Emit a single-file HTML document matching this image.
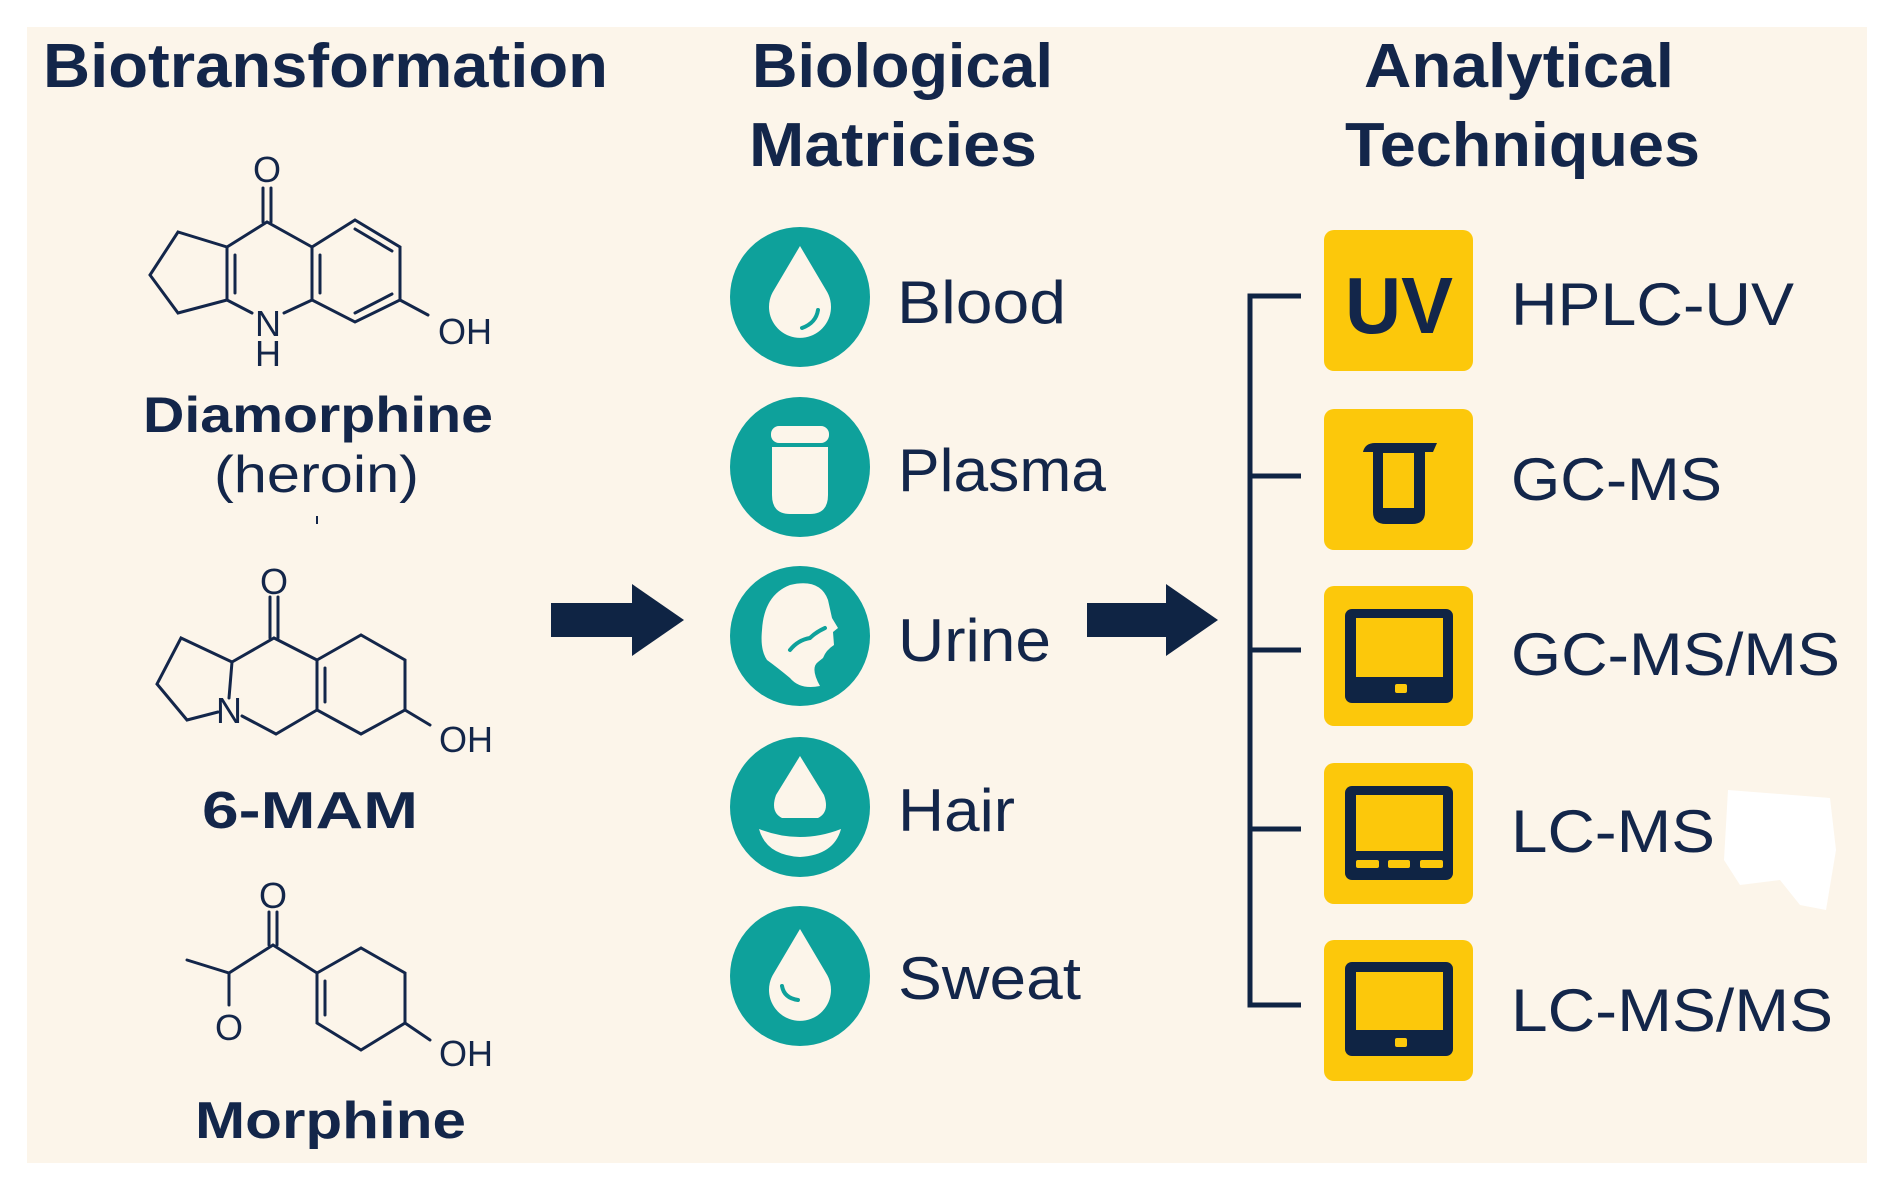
<!DOCTYPE html>
<html><head><meta charset="utf-8"><style>
html,body{margin:0;padding:0;background:#fff;}
svg{display:block}
text{font-family:"Liberation Sans",sans-serif;fill:#13264a}
</style></head><body>
<svg width="1888" height="1196" viewBox="0 0 1888 1196" xmlns="http://www.w3.org/2000/svg">
<rect x="0" y="0" width="1888" height="1196" fill="#ffffff"/>
<rect x="27" y="27" width="1840" height="1136" fill="#fcf5ea"/>

<g font-weight="bold" font-size="62">
<text x="43" y="87" textLength="565" lengthAdjust="spacingAndGlyphs">Biotransformation</text>
<text x="752" y="87" textLength="301" lengthAdjust="spacingAndGlyphs">Biological</text>
<text x="749" y="166" textLength="288" lengthAdjust="spacingAndGlyphs">Matricies</text>
<text x="1364" y="87" textLength="310" lengthAdjust="spacingAndGlyphs">Analytical</text>
<text x="1345" y="166" textLength="355" lengthAdjust="spacingAndGlyphs">Techniques</text>
</g>

<g stroke="#13264a" stroke-width="3" fill="none" stroke-linecap="round">
<line x1="263" y1="188" x2="263" y2="222"/><line x1="271" y1="188" x2="271" y2="222"/>
<polyline points="227,247 267,222 312,247"/>
<polyline points="227,247 178,232 150,275 178,313 227,300"/>
<line x1="227" y1="247" x2="227" y2="300"/><line x1="235" y1="255" x2="235" y2="293"/>
<line x1="227" y1="300" x2="252" y2="313"/><line x1="284" y1="313" x2="312" y2="300"/>
<polyline points="312,247 355,220 400,247 400,300 355,322 312,300 312,247"/>
<line x1="320" y1="255" x2="320" y2="293"/>
<line x1="355" y1="229" x2="392" y2="251"/>
<line x1="355" y1="313" x2="392" y2="294"/>
<line x1="400" y1="300" x2="428" y2="315"/>
<line x1="270" y1="597" x2="270" y2="638"/><line x1="278" y1="597" x2="278" y2="638"/>
<polyline points="232,662 274,638 317,660"/>
<polyline points="232,662 181,638 157,684 187,720 218,712"/>
<line x1="232" y1="662" x2="229" y2="698"/>
<polyline points="242,716 276,734 317,710"/>
<polyline points="317,660 361,635 405,660 405,710 361,734 317,710 317,660"/>
<line x1="325" y1="668" x2="325" y2="702"/>
<line x1="405" y1="710" x2="430" y2="725"/>
<line x1="269" y1="912" x2="269" y2="945"/><line x1="277" y1="912" x2="277" y2="945"/>
<polyline points="187,960 229,973 273,945 317,973"/>
<line x1="229" y1="973" x2="229" y2="1005"/>
<polyline points="317,973 361,948 405,973 405,1023 361,1050 317,1023 317,973"/>
<line x1="325" y1="981" x2="325" y2="1015"/>
<line x1="405" y1="1023" x2="430" y2="1040"/>
</g>
<g font-size="36">
<text x="267" y="182" text-anchor="middle">O</text>
<text x="268" y="336" text-anchor="middle">N</text>
<text x="268" y="366" text-anchor="middle">H</text>
<text x="465" y="344" text-anchor="middle">OH</text>
<text x="274" y="594" text-anchor="middle">O</text>
<text x="229" y="723" text-anchor="middle">N</text>
<text x="466" y="752" text-anchor="middle">OH</text>
<text x="273" y="908" text-anchor="middle">O</text>
<text x="229" y="1040" text-anchor="middle">O</text>
<text x="466" y="1066" text-anchor="middle">OH</text>
</g>
<text x="143" y="432" font-size="50" font-weight="bold" textLength="350" lengthAdjust="spacingAndGlyphs">Diamorphine</text>
<text x="214" y="492" font-size="52" textLength="205" lengthAdjust="spacingAndGlyphs">(heroin)</text>
<line x1="317" y1="516" x2="317" y2="524" stroke="#13264a" stroke-width="2"/>
<text x="202" y="828" font-size="52" font-weight="bold" textLength="216" lengthAdjust="spacingAndGlyphs">6-MAM</text>
<text x="195" y="1138" font-size="52" font-weight="bold" textLength="271" lengthAdjust="spacingAndGlyphs">Morphine</text>

<g fill="#0f2444">
<rect x="551" y="603" width="84" height="34"/><polygon points="632,584 684,620 632,656"/>
<rect x="1087" y="603" width="82" height="34"/><polygon points="1166,584 1218,620 1166,656"/>
</g>

<g fill="#0ea19b">
<circle cx="800" cy="297" r="70"/><circle cx="800" cy="467" r="70"/><circle cx="800" cy="636" r="70"/><circle cx="800" cy="807" r="70"/><circle cx="800" cy="976" r="70"/>
</g>
<g fill="#fcf5ea">
<path d="M800 246 L774 290 A31 31 0 1 0 826 290 Z"/>
<rect x="771" y="426" width="58" height="17" rx="8"/>
<path d="M772 447 H828 V495 Q828 514 810 514 H790 Q772 514 772 495 Z"/>
<path d="M790 585 Q820 578 828 600 L832 618 L838 628 L833 632 L834 645 Q826 650 823 658 L818 662 Q810 668 820 686 Q800 690 790 678 Q778 668 767 660 Q760 650 762 630 Q764 595 790 585 Z"/>
<path d="M800 756 L776 795 Q770 812 782 818 H818 Q830 812 824 795 Z"/>
<path d="M759 829 Q800 845 841 829 Q834 855 800 857 Q766 855 759 829 Z"/>
<path d="M800 929 L774 973 A31 31 0 1 0 826 973 Z"/>
</g>
<g stroke="#0ea19b" stroke-width="4" fill="none" stroke-linecap="round">
<path d="M818 310 Q816 323 802 328"/>
<path d="M782 986 Q784 998 798 1000"/>
<path d="M790 650 Q798 640 810 638 Q816 632 825 628"/>
</g>

<g stroke="#0f2444" stroke-width="5" fill="none">
<polyline points="1301,296 1250,296 1250,1005 1301,1005"/>
<line x1="1250" y1="476" x2="1301" y2="476"/>
<line x1="1250" y1="650" x2="1301" y2="650"/>
<line x1="1250" y1="829" x2="1301" y2="829"/>
</g>

<g fill="#fcc80b">
<rect x="1324" y="230" width="149" height="141" rx="10"/>
<rect x="1324" y="409" width="149" height="141" rx="10"/>
<rect x="1324" y="586" width="149" height="140" rx="10"/>
<rect x="1324" y="763" width="149" height="141" rx="10"/>
<rect x="1324" y="940" width="149" height="141" rx="10"/>
</g>
<text x="1345" y="333" font-size="80" font-weight="bold" fill="#0f2444" textLength="108" lengthAdjust="spacingAndGlyphs">UV</text>
<g fill="#0f2444">
<path d="M1363 452 Q1365 443 1375 443 H1437 L1433 452 H1425 V512 Q1425 524 1412 524 H1386 Q1373 524 1373 512 V452 Z"/>
<rect x="1345" y="609" width="108" height="94" rx="7"/>
<rect x="1345" y="786" width="108" height="94" rx="7"/>
<rect x="1345" y="962" width="108" height="94" rx="7"/>
</g>
<g fill="#fcc80b">
<rect x="1383" y="453" width="31" height="55"/>
<rect x="1356" y="618" width="87" height="59"/><rect x="1395" y="684" width="12" height="9" rx="2"/>
<rect x="1356" y="795" width="87" height="56"/>
<rect x="1356" y="860" width="23" height="8" rx="2"/><rect x="1388" y="860" width="22" height="8" rx="2"/><rect x="1420" y="860" width="23" height="8" rx="2"/>
<rect x="1356" y="972" width="87" height="58"/><rect x="1395" y="1038" width="12" height="9" rx="2"/>
</g>

<g font-size="60">
<text x="897" y="323" textLength="169" lengthAdjust="spacingAndGlyphs">Blood</text>
<text x="898" y="491" textLength="208" lengthAdjust="spacingAndGlyphs">Plasma</text>
<text x="898" y="661" textLength="153" lengthAdjust="spacingAndGlyphs">Urine</text>
<text x="898" y="831" textLength="117" lengthAdjust="spacingAndGlyphs">Hair</text>
<text x="898" y="999" textLength="183" lengthAdjust="spacingAndGlyphs">Sweat</text>
<text x="1511" y="325" textLength="283" lengthAdjust="spacingAndGlyphs">HPLC-UV</text>
<text x="1511" y="500" textLength="211" lengthAdjust="spacingAndGlyphs">GC-MS</text>
<text x="1511" y="675" textLength="329" lengthAdjust="spacingAndGlyphs">GC-MS/MS</text>
<text x="1511" y="852" textLength="204" lengthAdjust="spacingAndGlyphs">LC-MS</text>
<text x="1511" y="1031" textLength="322" lengthAdjust="spacingAndGlyphs">LC-MS/MS</text>
</g>
<path d="M1728 790 L1830 798 L1836 850 L1826 910 L1800 905 L1780 880 L1740 885 L1724 860 Z" fill="#ffffff"/>
</svg>
</body></html>
